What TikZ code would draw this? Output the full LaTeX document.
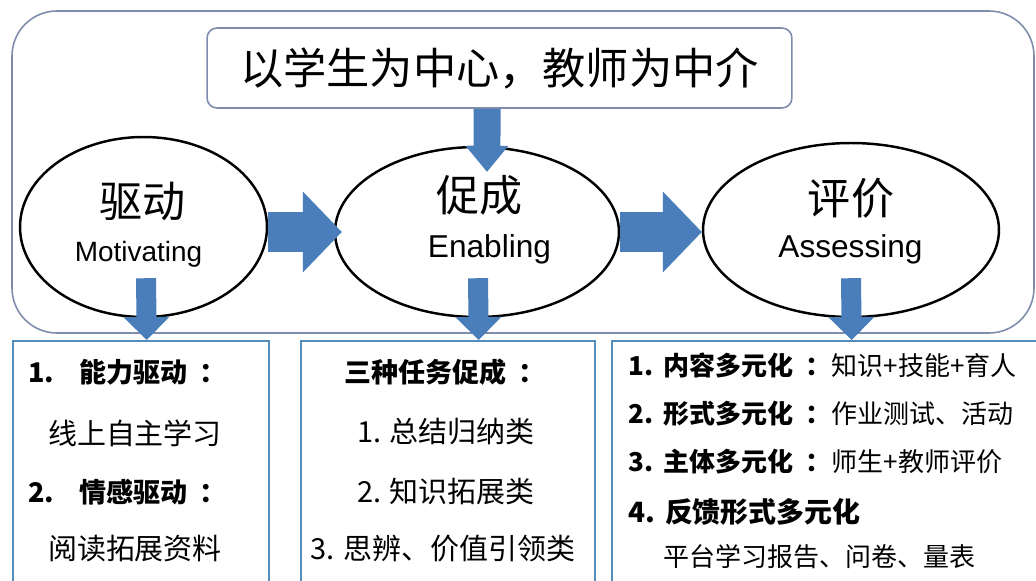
\documentclass[tikz,border=0pt]{standalone}
\usepackage{fontspec}
\setmainfont{Noto Sans CJK SC}
\newfontfamily\enfont{Liberation Sans}
\usetikzlibrary{shapes.geometric,arrows.meta,calc}

\definecolor{arrowblue}{RGB}{74,126,187}
\definecolor{framegrey}{RGB}{126,141,172}
\definecolor{panelblue}{RGB}{84,141,186}
\newcommand\pxsize[1]{\fontsize{#1}{#1}\selectfont}
\newcommand\gapcolon{\hspace{0.25cm}：}

\tikzset{
  stage/.style={ellipse, draw=black, line width=1.4pt, inner sep=0pt},
  titlebox/.style={draw=framegrey, line width=0.9pt, rounded corners=0.2cm, inner sep=0pt},
  panel/.style={draw=panelblue, line width=0.9pt, anchor=north west, inner sep=0pt},
  harrow/.style={arrowblue, line width=0.8cm, -{Triangle[length=0.78cm,width=1.62cm,line width=0pt]}},
  darrow/.style={arrowblue, line width=0.4cm, -{Triangle[length=0.46cm,width=0.92cm,line width=0pt]}},
  toparrow/.style={arrowblue, line width=0.54cm, -{Triangle[length=0.52cm,width=0.86cm,line width=0pt]}},
  zhbig/.style={font=\pxsize{24.5}},
  enlabel/.style={anchor=base, font=\enfont\pxsize{18}},
  itemhead/.style={anchor=west, font=\bfseries\pxsize{15.4}},
  itemtext/.style={font=\pxsize{16.5}}
}

\begin{document}
\begin{tikzpicture}[x=0.02cm,y=-0.02cm]
\useasboundingbox (0,0) rectangle (1036,581);
\fill[white] (0,0) rectangle (1036,581);

% frame round the three stages
\draw[framegrey, line width=0.9pt, rounded corners=0.9cm] (12,11) rectangle (1034,333);

\node[titlebox, minimum width=11.7cm, minimum height=1.6cm, font=\pxsize{24.6}] (title) at (499.5,68) {以学生为中心，教师为中介};

\node[stage, minimum width=4.94cm, minimum height=3.6cm] (drive) at (143.5,227) {}; % stage.1
\node[stage, minimum width=5.68cm, minimum height=3.4cm] (enable) at (477,232) {}; % stage.2
\node[stage, minimum width=5.92cm, minimum height=3.48cm] (assess) at (851,230) {}; % stage.3

\node[zhbig] (drivezh) at (143,201) {驱动};
\node[enlabel, font=\enfont\pxsize{15.9}] (driveen) at (138.5,262) {Motivating};
\node[zhbig] (enablezh) at (479.5,195) {促成};
\node[enlabel] (enableen) at (489.5,257) {Enabling};
\node[zhbig] (assesszh) at (851,198) {评价};
\node[enlabel] (assessen) at (850.5,257) {Assessing};

% the three panels below
\node[panel, minimum width=5.12cm, minimum height=5.3cm] (motpanel) at (12,340) {};
\node[panel, minimum width=5.88cm, minimum height=5.3cm] (enpanel) at (300,340) {};
\node[panel, minimum width=8.58cm, minimum height=5.3cm] (aspanel) at (611,340) {};

\node[itemhead] (mot1) at (22,372) {1.\hspace{0.5cm}能力驱动\gapcolon};
\node[itemtext] (mot1t) at (135,433) {线上自主学习};
\node[itemhead] (mot2) at (22,492) {2.\hspace{0.5cm}情感驱动\gapcolon};
\node[itemtext] (mot2t) at (135,549) {阅读拓展资料};

\node[itemhead, anchor=center] (en0) at (445,372) {三种任务促成\gapcolon};
\node[itemtext] (en1) at (446,432) {1. 总结归纳类};
\node[itemtext] (en2) at (446,491) {2. 知识拓展类};
\node[itemtext] (en3) at (443,549) {3. 思辨、价值引领类};

\node[itemhead, font=\pxsize{14.8}] (as1) at (622,365) {\textbf{1.\hspace{0.2cm}内容多元化\gapcolon}知识+技能+育人};
\node[itemhead, font=\pxsize{14.8}] (as2) at (622,414) {\textbf{2.\hspace{0.2cm}形式多元化\gapcolon}作业测试、活动};
\node[itemhead, font=\pxsize{14.8}] (as3) at (622,462) {\textbf{3.\hspace{0.2cm}主体多元化\gapcolon}师生+教师评价};
\node[itemhead, font=\pxsize{15.9}] (as4) at (622,512) {\textbf{4.\hspace{0.2cm}反馈形式多元化}};
\node[anchor=west, font=\pxsize{14.8}] (as4t) at (657,557) {平台学习报告、问卷、量表};

% block arrows
\draw[toparrow] ([xshift=-0.25cm]title.south) -- ([xshift=0.2cm,yshift=-0.52cm]enable.north);
\draw[harrow] ([yshift=-0.1cm]drive.east) -- ([xshift=0.16cm]enable.west);
\draw[harrow] (enable.east) -- ([yshift=-0.04cm]assess.west);
\draw[darrow] ([xshift=0.05cm,yshift=0.8cm]drive.south) -- ([xshift=0.12cm]motpanel.north);
\draw[darrow] ([xshift=0.02cm,yshift=0.8cm]enable.south) -- ([xshift=0.62cm]enpanel.north);
\draw[darrow] ([yshift=0.8cm]assess.south) -- ([xshift=0.51cm]aspanel.north);

\end{tikzpicture}
\end{document}
